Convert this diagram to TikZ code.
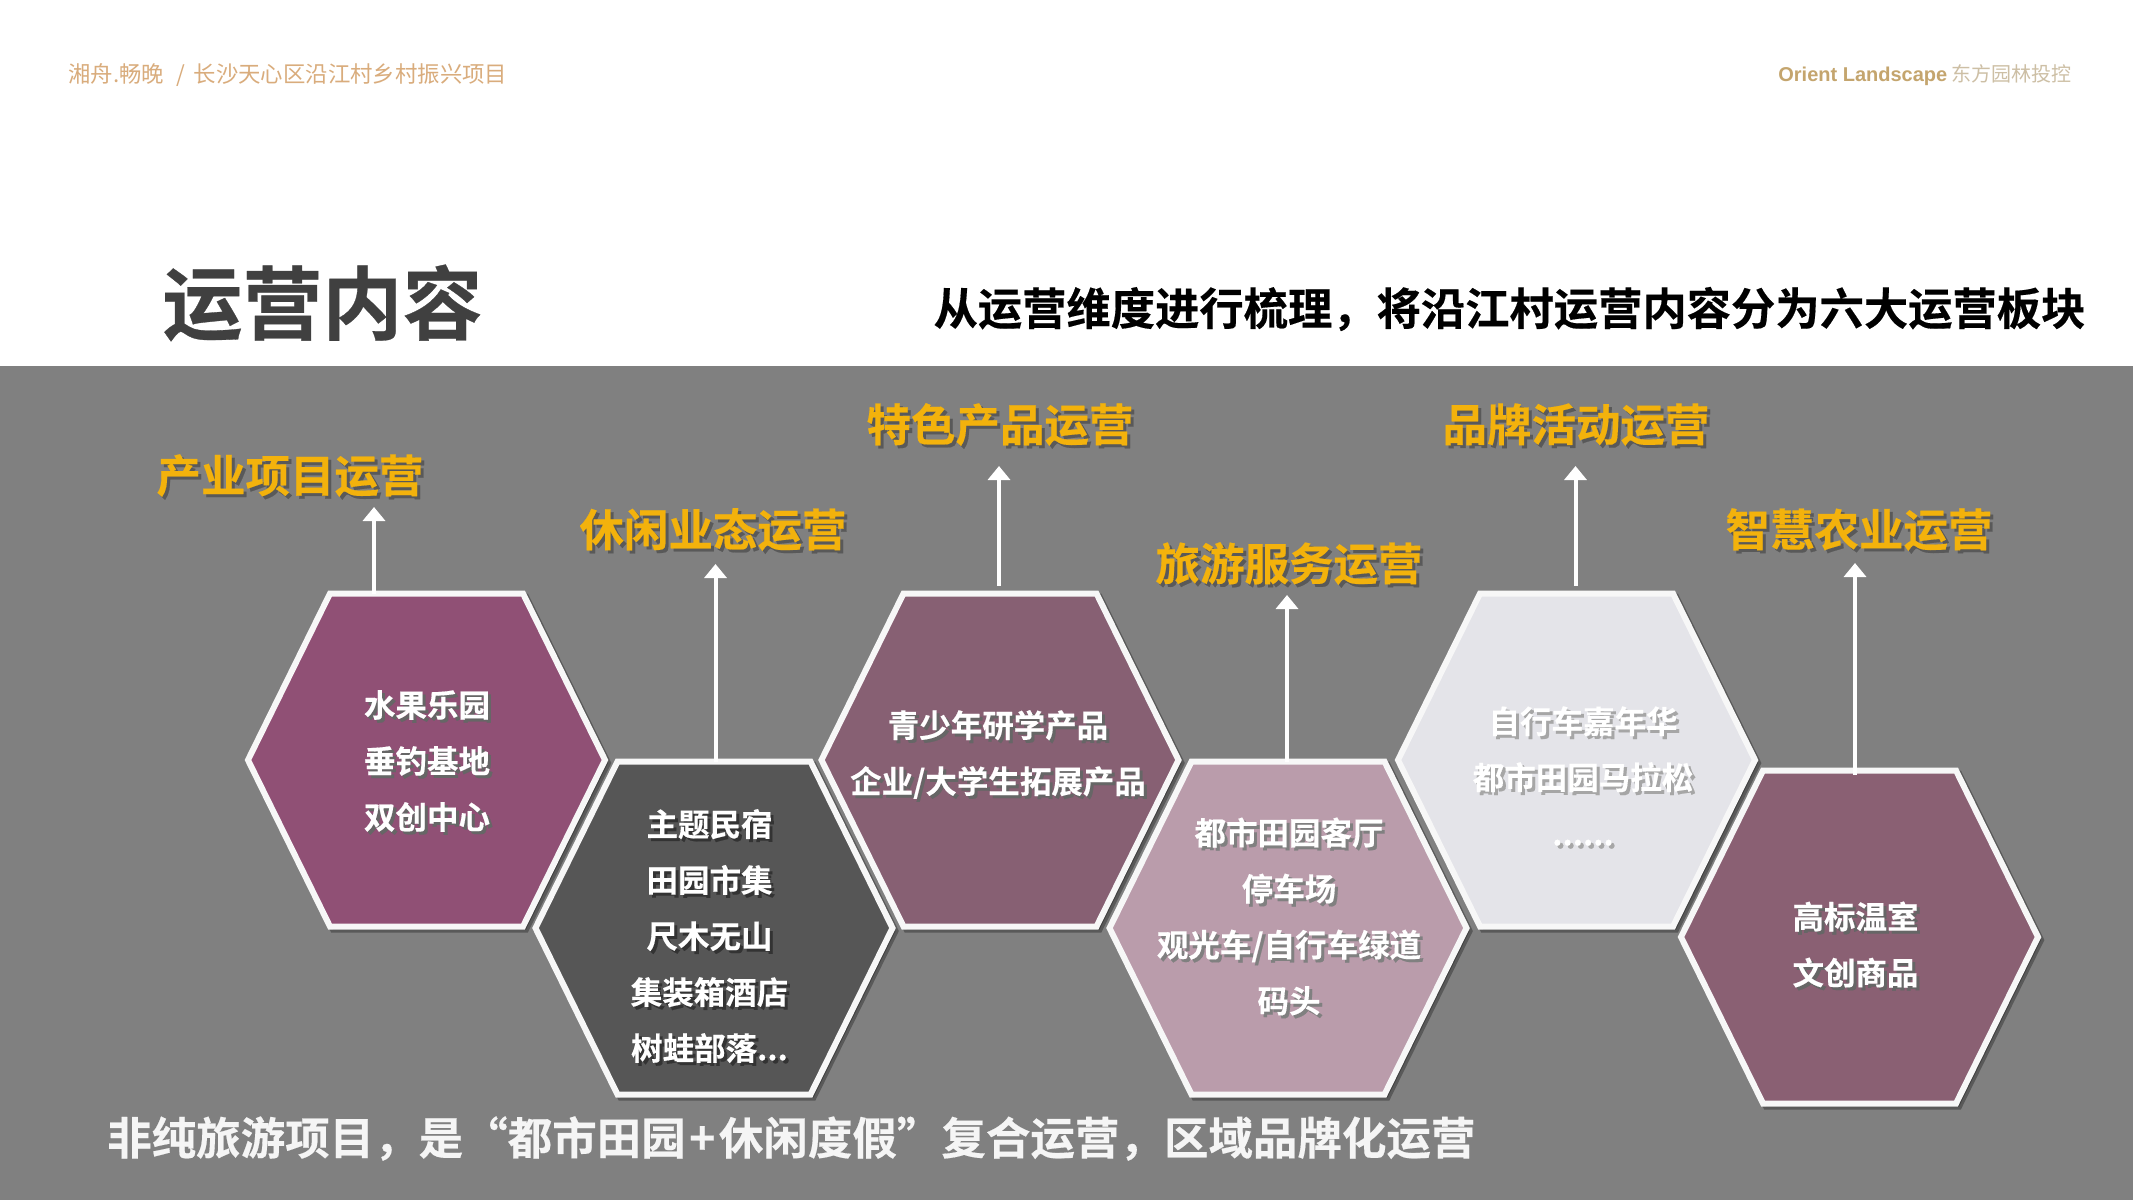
\documentclass[tikz,border=0pt]{standalone}
\usepackage{fontspec}
\usetikzlibrary{arrows.meta,shadows}
\setmainfont{Noto Sans CJK SC}[BoldFont=* Bold,BoldFeatures={FakeBold=0.35}]
\newfontfamily\arialb{Liberation Sans}[Scale=1]
\definecolor{bandgrey}{HTML}{808080}
\definecolor{hone}{HTML}{905075}
\definecolor{htwo}{HTML}{565656}
\definecolor{hthree}{HTML}{876073}
\definecolor{hfour}{HTML}{BA9CAB}
\definecolor{hfive}{HTML}{E4E4E9}
\definecolor{hsix}{HTML}{8A6073}
\definecolor{labgold}{HTML}{F3B20C}
\definecolor{headtan}{HTML}{D9AC7C}
\definecolor{headgold}{HTML}{C4A56E}
\definecolor{headpale}{HTML}{CDBFA5}
\newdimen\hxa \newdimen\hxb \newdimen\hya \newdimen\hyb \newdimen\hym
\makeatletter
\pgfdeclareshape{hexa}{
  \inheritsavedanchors[from=rectangle]
  \inheritanchorborder[from=rectangle]
  \inheritanchor[from=rectangle]{center}
  \inheritanchor[from=rectangle]{north}
  \inheritanchor[from=rectangle]{south}
  \backgroundpath{
    \southwest \global\hxa=\pgf@x \global\hya=\pgf@y
    \northeast \global\hxb=\pgf@x \global\hyb=\pgf@y
    \global\hym=\hya \global\advance\hym by \hyb \global\divide\hym by 2
    \pgfpathmoveto{\pgfqpoint{\hxa}{\hym}}
    \pgfpathlineto{\pgfpoint{\hxa+82pt}{\hyb}}
    \pgfpathlineto{\pgfpoint{\hxb-82pt}{\hyb}}
    \pgfpathlineto{\pgfqpoint{\hxb}{\hym}}
    \pgfpathlineto{\pgfpoint{\hxb-82pt}{\hya}}
    \pgfpathlineto{\pgfpoint{\hxa+82pt}{\hya}}
    \pgfpathclose
  }
}
\makeatother
\newcommand\shtx[3]{\leavevmode\rlap{\hspace{3pt}\raisebox{-3pt}{\textcolor{#1}{#3}}}\textcolor{#2}{#3}}
\tikzset{
  x=1pt,y=-1pt,
  hexcell/.style={shape=hexa,draw=white!97!black,line width=6pt,fill=#1,minimum width=357pt,minimum height=333pt,inner sep=0pt,outer sep=0pt,
    general shadow={shadow xshift=3pt,shadow yshift=-3pt,fill=black,draw=black,opacity=.3}},
  hextext/.style={font=\bfseries\fontsize{31.5}{56}\selectfont,align=center,inner sep=0pt},
  grouplabel/.style={font=\bfseries\fontsize{44.5}{50}\selectfont,inner sep=0pt},
  uparrow/.style={draw=white,line width=4pt,-{Triangle[length=14pt,width=22pt]}},
}
\begin{document}
\begin{tikzpicture}
\useasboundingbox (0,0) rectangle (2133,1200);
\fill[white] (0,0) rectangle (2133,1200);
\fill[bandgrey] (0,365.5) rectangle (2133,1200);
% header
\node[anchor=west,inner sep=0pt,text=headtan,font=\fontsize{22.4}{26}\selectfont] (headl) at (68,75) {湘舟.畅晚\hspace{12pt}/\hspace{9pt}长沙天心区沿江村乡村振兴项目};
\node[anchor=east,inner sep=0pt,font=\fontsize{20}{26}\selectfont] (headr) at (2072,75) {\textcolor{headgold}{\arialb\bfseries Orient Landscape} \textcolor{headpale}{东方园林投控}};
\node[inner sep=0pt,text=black!75,font=\bfseries\fontsize{80}{90}\selectfont] (title) at (322.5,303) {运营内容};
\node[inner sep=0pt,text=black,font=\bfseries\fontsize{44.3}{50}\selectfont] (subtitle) at (1509.5,309) {从运营维度进行梳理，将沿江村运营内容分为六大运营板块};
% hexagons
\node[hexcell=hone] (h1) at (426.5,760) {};
\node[hexcell=htwo] (h2) at (714,928) {};
\node[hexcell=hthree] (h3) at (1000,760) {};
\node[hexcell=hfour] (h4) at (1288,928) {};
\node[hexcell=hfive] (h5) at (1576.5,760) {};
\node[hexcell=hsix] (h6) at (1859.5,937) {};
% hex texts
\node[hextext] (t1) at (427,762.5) {\shtx{black!60}{white}{水果乐园}\\\shtx{black!60}{white}{垂钓基地}\\\shtx{black!60}{white}{双创中心}};
\node[hextext] (t2) at (709.5,937.5) {\shtx{black!80}{white}{主题民宿}\\\shtx{black!80}{white}{田园市集}\\\shtx{black!80}{white}{尺木无山}\\\shtx{black!80}{white}{集装箱酒店}\\\shtx{black!80}{white}{树蛙部落...}};
\node[hextext] (t3) at (998,756) {\shtx{black!60}{white}{青少年研学产品}\\\shtx{black!60}{white}{企业/大学生拓展产品}};
\node[hextext] (t4) at (1289,918) {\shtx{black!50}{white}{都市田园客厅}\\\shtx{black!50}{white}{停车场}\\\shtx{black!50}{white}{观光车/自行车绿道}\\\shtx{black!50}{white}{码头}};
\node[hextext] (t5) at (1583,777.5) {\shtx{black!35}{white}{自行车嘉年华}\\\shtx{black!35}{white}{都市田园马拉松}\\\shtx{black!35}{white}{......}};
\node[hextext] (t6) at (1855.5,946) {\shtx{black!60}{white}{高标温室}\\\shtx{black!60}{white}{文创商品}};
% group labels
\node[grouplabel] (l1) at (290,477) {\shtx{black!65}{labgold}{产业项目运营}};
\node[grouplabel] (l2) at (713,531) {\shtx{black!65}{labgold}{休闲业态运营}};
\node[grouplabel] (l3) at (1000,426) {\shtx{black!65}{labgold}{特色产品运营}};
\node[grouplabel] (l4) at (1289,565) {\shtx{black!65}{labgold}{旅游服务运营}};
\node[grouplabel] (l5) at (1576,426) {\shtx{black!65}{labgold}{品牌活动运营}};
\node[grouplabel] (l6) at (1859,531) {\shtx{black!65}{labgold}{智慧农业运营}};
% arrow heads' free ends
\coordinate (a1) at (374,507);
\coordinate (a2) at (715.5,564);
\coordinate (a3) at (999,466);
\coordinate (a4) at (1287,595);
\coordinate (a5) at (1575.5,466);
\coordinate (a6) at (1855,563);
\draw[uparrow] (h1.north -| a1) -- (a1);
\draw[uparrow] (h2.north -| a2) -- (a2);
\draw[uparrow,shorten <=8pt] (h3.north -| a3) -- (a3);
\draw[uparrow] (h4.north -| a4) -- (a4);
\draw[uparrow,shorten <=8pt] (h5.north -| a5) -- (a5);
\draw[uparrow,shorten <=-4pt] (h6.north -| a6) -- (a6);
% bottom line
\node[anchor=west,inner sep=0pt,text=white!96!black,font=\bfseries\fontsize{44.5}{50}\selectfont] (bottom) at (107,1138.5) {非纯旅游项目，是“都市田园\hspace{3.5pt}+\hspace{3.5pt}休闲度假”复合运营，区域品牌化运营};
\end{tikzpicture}
\end{document}
